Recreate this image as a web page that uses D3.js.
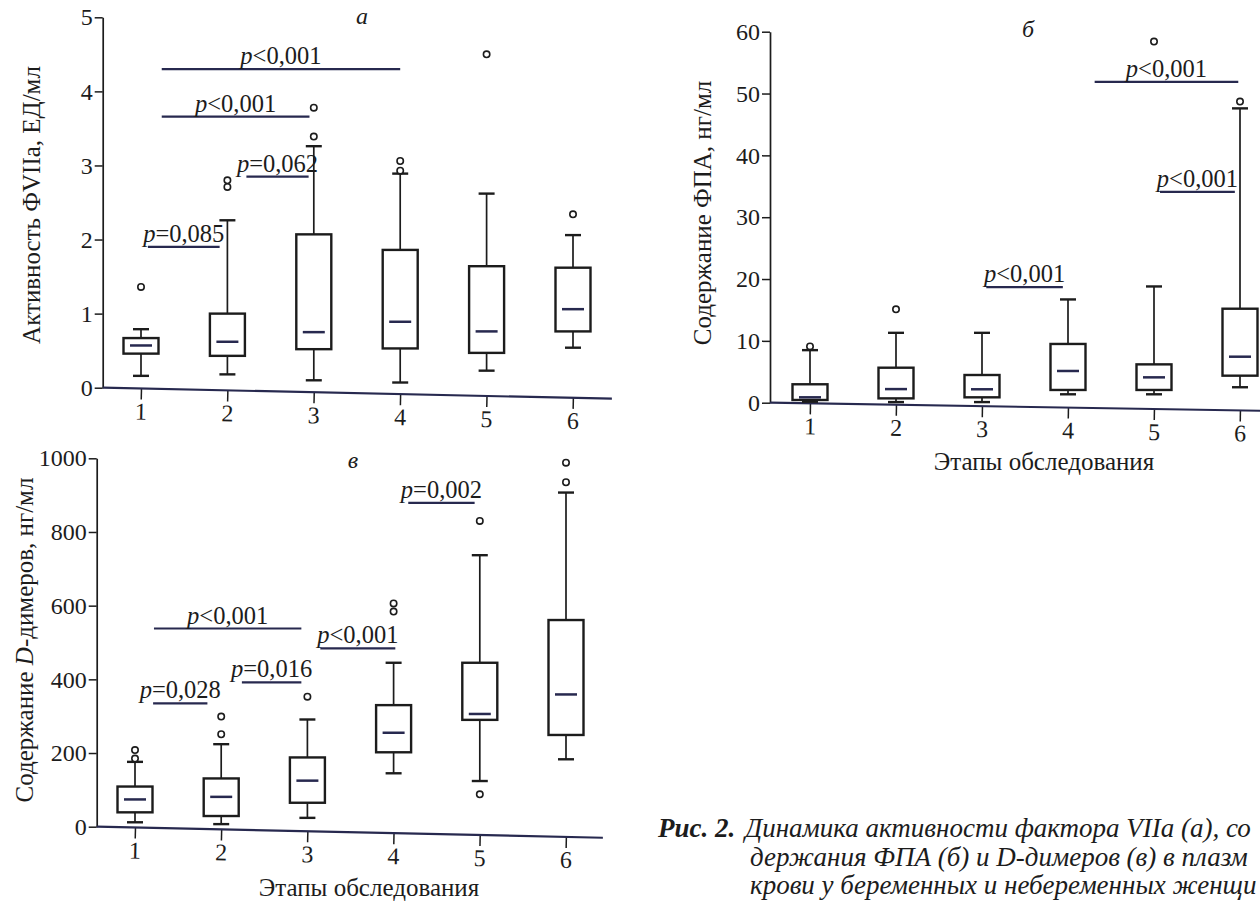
<!DOCTYPE html>
<html><head><meta charset="utf-8">
<script src="https://cdn.jsdelivr.net/npm/d3@7"></script>
<style>
html,body{margin:0;padding:0;background:#fff;}
svg{display:block;}
text{font-family:"Liberation Serif","Times New Roman",serif;fill:#1c1c1c;}
</style></head><body>
<svg id="chart" width="1260" height="901"></svg>
<script>
const stages = ["1","2","3","4","5","6"];

// Panel а — активность ФVIIa, ЕД/мл
const aLow  = [0.16, 0.18, 0.10, 0.07, 0.23, 0.54];
const aQ1   = [0.46, 0.43, 0.52, 0.53, 0.47, 0.76];
const aMed  = [0.57, 0.62, 0.75, 0.89, 0.76, 1.06];
const aQ3   = [0.67, 1.00, 2.07, 1.86, 1.64, 1.62];
const aHigh = [0.79, 2.26, 3.26, 2.89, 2.62, 2.06];
const aOut  = [[1.36], [2.71, 2.80], [3.39, 3.78], [2.93, 3.06], [4.50], [2.34]];
const aTicks = [0, 1, 2, 3, 4, 5];
const aSigText  = ["p<0,001", "p<0,001", "p=0,062", "p=0,085"];
const aSigFrom  = [1.24, 1.24, 2.22, 1.08];
const aSigTo    = [4.00, 2.95, 2.94, 1.91];
const aSigLevel = [4.30, 3.66, 2.85, 1.90];

// Panel б — содержание ФПА, нг/мл
const bLow  = [0.16, 0.10, 0.10, 1.36, 1.36, 2.50];
const bQ1   = [0.44, 0.70, 0.87, 2.06, 2.06, 4.37];
const bMed  = [0.87, 2.20, 2.17, 5.13, 4.10, 7.44];
const bQ3   = [2.98, 5.66, 4.48, 9.50, 6.20, 15.2];
const bHigh = [8.50, 11.3, 11.3, 16.7, 18.8, 47.6];
const bOut  = [[9.1], [15.1], [], [], [58.4], [48.7]];
const bTicks = [0, 10, 20, 30, 40, 50, 60];
const bSigText  = ["p<0,001", "p<0,001", "p<0,001"];
const bSigFrom  = [4.31, 5.07, 3.05];
const bSigTo    = [5.98, 5.94, 3.94];
const bSigLevel = [51.9, 34.1, 18.7];

// Panel в — содержание D-димеров, нг/мл
const cLow  = [12, 7, 24, 145, 124, 183];
const cQ1   = [39, 29, 65, 202, 290, 249];
const cMed  = [74, 81, 125, 255, 306, 359];
const cQ3   = [109, 131, 188, 330, 445, 561];
const cHigh = [176, 224, 291, 445, 737, 907];
const cOut  = [[185, 208], [251, 299], [353], [584, 606], [88, 830], [935, 988]];
const cTicks = [0, 200, 400, 600, 800, 1000];
const cSigText  = ["p<0,001", "p=0,028", "p=0,016", "p<0,001", "p=0,002"];
const cSigFrom  = [1.22, 1.21, 2.24, 3.15, 4.17];
const cSigTo    = [2.93, 1.84, 2.93, 4.02, 4.94];
const cSigLevel = [538, 335, 392, 484, 879];

// Caption lines (as visible in the cropped source)
const captionHead = "Рис. 2.";
const captionLines = [
  "Динамика активности фактора VIIa (а), со",
  "держания ФПА (б) и D-димеров (в) в плазм",
  "крови у беременных и небеременных женщи"
];

const svg = d3.select("#chart");
const INK = "#1c1c1c";
const NAVY = "#27294f";

function drawPanel(cfg) {
  const g = svg.append("g");
  const x = d3.scalePoint().domain(stages).range([cfg.x0, cfg.x1]);
  const step = x.step();
  const xs = v => cfg.x0 + (v - 1) * step;           // fractional stage position
  const y = d3.scaleLinear().domain([0, cfg.max]).range([cfg.y0, cfg.y1]);

  // y axis
  const ya = g.append("g").attr("transform", `translate(${cfg.axisX},0)`)
    .call(d3.axisLeft(y).tickValues(cfg.ticks).tickSize(8).tickSizeOuter(0).tickPadding(2).tickFormat(d3.format("d")));
  ya.select(".domain").attr("stroke", INK).attr("stroke-width", 1.7);
  ya.selectAll(".tick line").attr("stroke", INK).attr("stroke-width", 1.5);
  ya.selectAll(".tick text").attr("font-size", 24).attr("font-family", "Liberation Serif").attr("fill", INK);

  // x axis (slightly tilted like the scan)
  const xg = g.append("g").attr("transform", `rotate(${cfg.tilt},${cfg.axisX},${cfg.y0}) translate(0,${cfg.y0})`);
  xg.call(d3.axisBottom(x).tickSize(11).tickSizeOuter(0).tickPadding(3));
  xg.select(".domain").remove();
  xg.append("line").attr("x1", cfg.axisX).attr("x2", cfg.xEnd).attr("y1", 0).attr("y2", 0)
    .attr("stroke", NAVY).attr("stroke-width", 2.2);
  xg.selectAll(".tick line").attr("stroke", INK).attr("stroke-width", 1.5);
  xg.selectAll(".tick text").attr("font-size", 24).attr("font-family", "Liberation Serif").attr("fill", INK);

  // boxes
  const bw = 35, cw = 16, mw = 22;
  stages.forEach((s, i) => {
    const cx = x(s);
    const bg = g.append("g");
    bg.append("line").attr("x1", cx).attr("x2", cx).attr("y1", y(cfg.low[i])).attr("y2", y(cfg.q1[i]))
      .attr("stroke", INK).attr("stroke-width", 1.7);
    bg.append("line").attr("x1", cx).attr("x2", cx).attr("y1", y(cfg.q3[i])).attr("y2", y(cfg.high[i]))
      .attr("stroke", INK).attr("stroke-width", 1.7);
    [cfg.low[i], cfg.high[i]].forEach(v => {
      bg.append("line").attr("x1", cx - cw / 2).attr("x2", cx + cw / 2).attr("y1", y(v)).attr("y2", y(v))
        .attr("stroke", INK).attr("stroke-width", 2.4);
    });
    bg.append("rect").attr("x", cx - bw / 2).attr("width", bw)
      .attr("y", y(cfg.q3[i])).attr("height", y(cfg.q1[i]) - y(cfg.q3[i]))
      .attr("fill", "#fff").attr("stroke", INK).attr("stroke-width", 2.4);
    bg.append("line").attr("x1", cx - mw / 2).attr("x2", cx + mw / 2).attr("y1", y(cfg.med[i])).attr("y2", y(cfg.med[i]))
      .attr("stroke", NAVY).attr("stroke-width", 2.5);
    cfg.out[i].forEach(v => {
      bg.append("circle").attr("cx", cx).attr("cy", y(v)).attr("r", 3.2)
        .attr("fill", "#fff").attr("stroke", INK).attr("stroke-width", 1.6);
    });
  });

  // significance bars
  cfg.sigText.forEach((t, k) => {
    const xa = xs(cfg.sigFrom[k]), xb = xs(cfg.sigTo[k]), yy = y(cfg.sigLevel[k]);
    g.append("line").attr("x1", xa).attr("x2", xb).attr("y1", yy).attr("y2", yy)
      .attr("stroke", NAVY).attr("stroke-width", 2.2);
    const tx = g.append("text").attr("x", (xa + xb) / 2).attr("y", yy - 5)
      .attr("text-anchor", "middle").attr("font-size", 24.5);
    tx.append("tspan").attr("font-style", "italic").text(t.charAt(0));
    tx.append("tspan").text(t.slice(1));
  });

  // panel letter
  g.append("text").attr("x", cfg.letterX).attr("y", cfg.letterY).attr("text-anchor", "middle")
    .attr("font-size", 24).attr("font-style", "italic").text(cfg.letter);

  // y title
  const yt = g.append("text").attr("transform", `translate(${cfg.yTitleX},${cfg.yTitleY}) rotate(-90)`)
    .attr("text-anchor", "middle").attr("font-size", 25);
  cfg.yTitle.forEach(p => {
    const ts = yt.append("tspan").text(p.t);
    if (p.i) ts.attr("font-style", "italic");
  });

  // x title
  if (cfg.xTitle) {
    g.append("text").attr("x", cfg.xTitleX).attr("y", cfg.xTitleY).attr("text-anchor", "middle")
      .attr("font-size", 25).text(cfg.xTitle);
  }
}

drawPanel({
  low: aLow, q1: aQ1, med: aMed, q3: aQ3, high: aHigh, out: aOut, ticks: aTicks, max: 5,
  sigText: aSigText, sigFrom: aSigFrom, sigTo: aSigTo, sigLevel: aSigLevel,
  x0: 141, x1: 573, axisX: 102.7, xEnd: 612, y0: 387.7, y1: 17.3, tilt: 1.24,
  letter: "а", letterX: 362, letterY: 24,
  yTitle: [{t: "Активность ФVIIа, ЕД/мл"}], yTitleX: 40, yTitleY: 205
});

drawPanel({
  low: bLow, q1: bQ1, med: bMed, q3: bQ3, high: bHigh, out: bOut, ticks: bTicks, max: 60,
  sigText: bSigText, sigFrom: bSigFrom, sigTo: bSigTo, sigLevel: bSigLevel,
  x0: 810, x1: 1240, axisX: 770, xEnd: 1275, y0: 402.7, y1: 31.7, tilt: 0.94,
  letter: "б", letterX: 1028, letterY: 37,
  yTitle: [{t: "Содержание ФПА, нг/мл"}], yTitleX: 711, yTitleY: 213,
  xTitle: "Этапы обследования", xTitleX: 1044, xTitleY: 470
});

drawPanel({
  low: cLow, q1: cQ1, med: cMed, q3: cQ3, high: cHigh, out: cOut, ticks: cTicks, max: 1000,
  sigText: cSigText, sigFrom: cSigFrom, sigTo: cSigTo, sigLevel: cSigLevel,
  x0: 135, x1: 566, axisX: 96.7, xEnd: 603, y0: 826.7, y1: 458.3, tilt: 1.25,
  letter: "в", letterX: 353, letterY: 468,
  yTitle: [{t: "Содержание "}, {t: "D", i: true}, {t: "-димеров, нг/мл"}], yTitleX: 33, yTitleY: 640,
  xTitle: "Этапы обследования", xTitleX: 369, xTitleY: 896
});

// caption
const cap = svg.append("g").attr("font-size", 27).attr("font-style", "italic");
const l1 = cap.append("text").attr("x", 658).attr("y", 837);
l1.append("tspan").attr("font-weight", "bold").text(captionHead);
l1.append("tspan").attr("x", 745).text(captionLines[0]);
cap.append("text").attr("x", 750).attr("y", 866).text(captionLines[1]);
cap.append("text").attr("x", 750).attr("y", 894).text(captionLines[2]);
</script>
</body></html>
